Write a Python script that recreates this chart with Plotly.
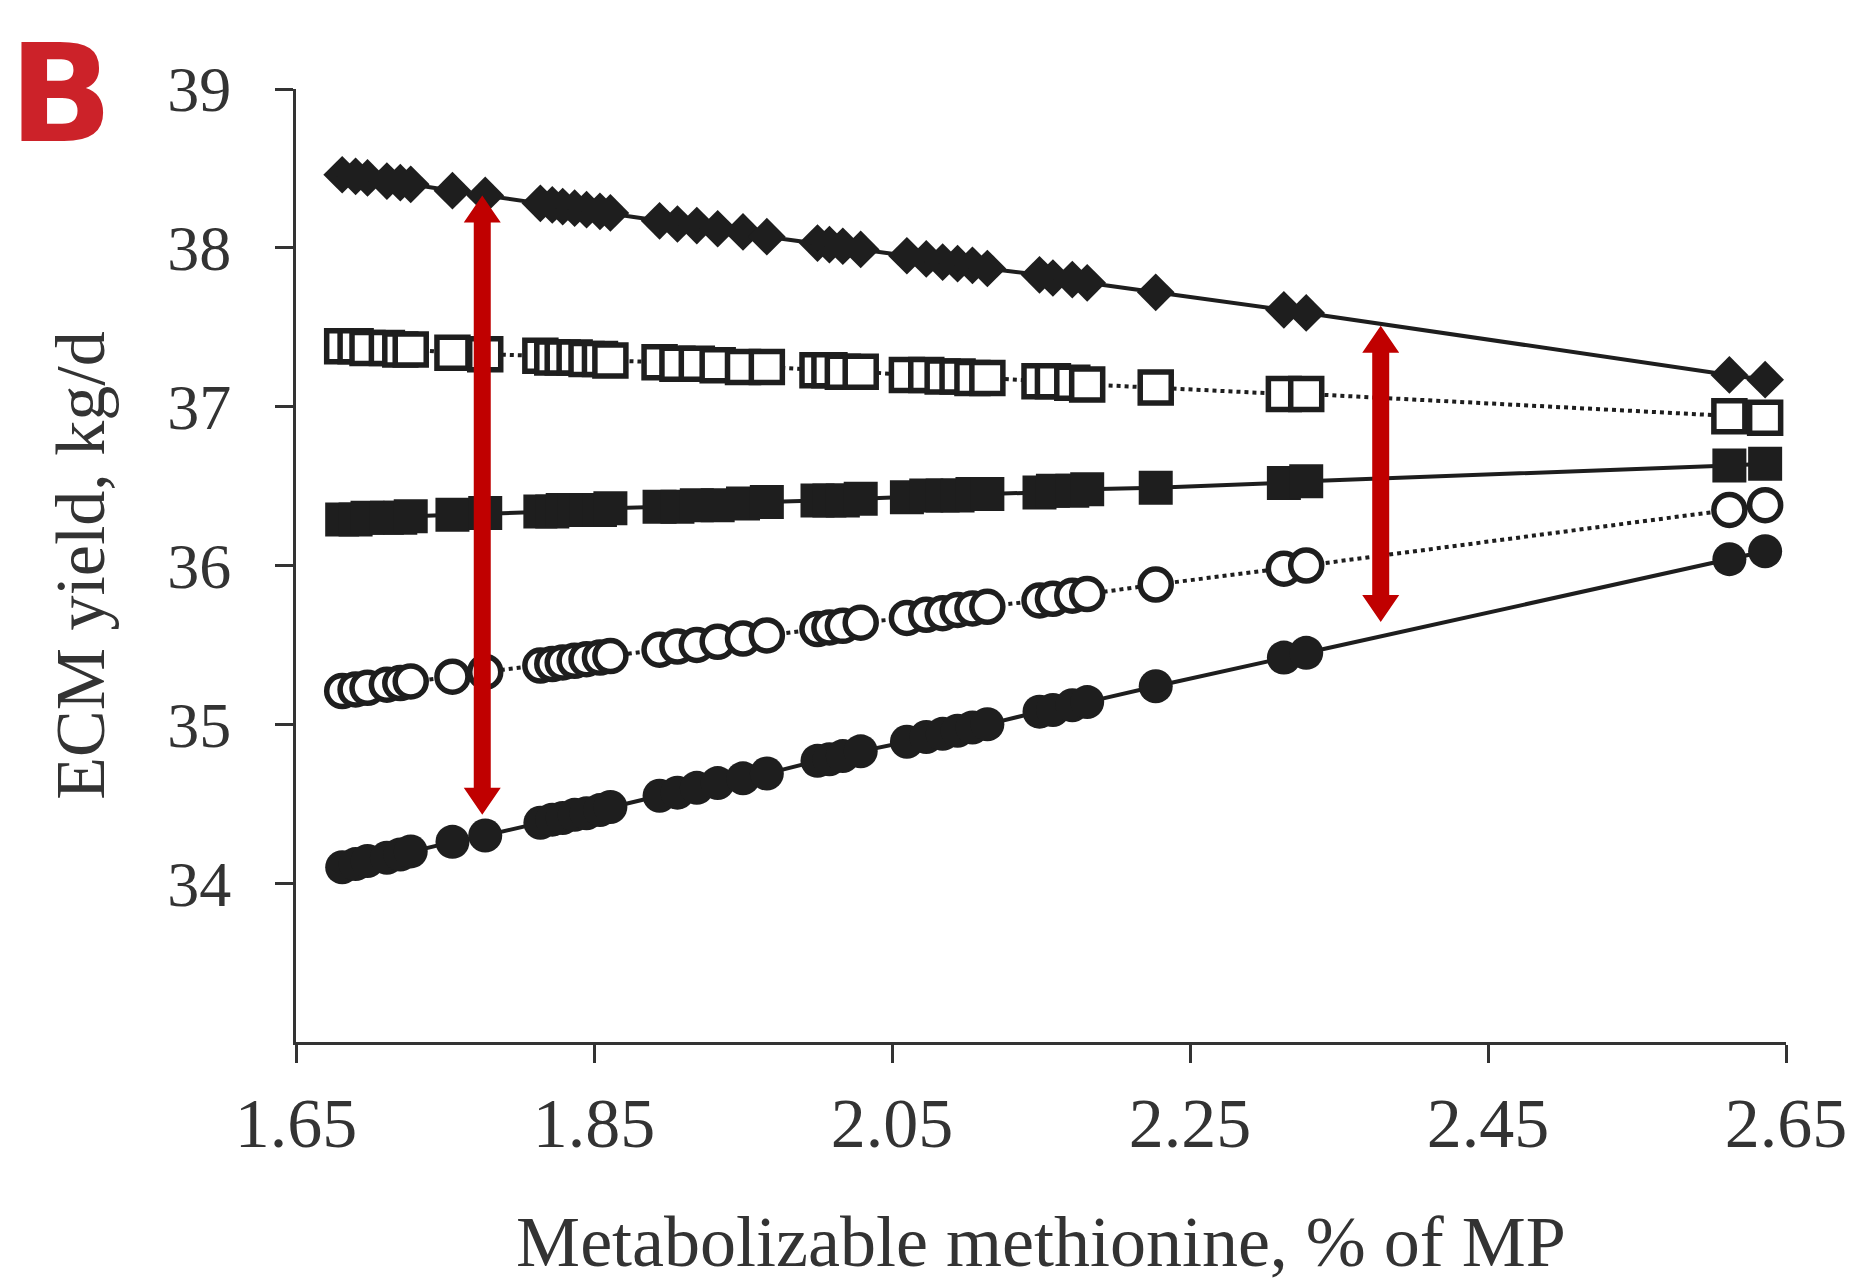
import plotly.graph_objects as go

# ---------------- data ----------------
met_x = [1.681, 1.690, 1.698, 1.711, 1.720, 1.727, 1.755, 1.777, 1.814, 1.822,
         1.829, 1.837, 1.845, 1.854, 1.861, 1.894, 1.906, 1.919, 1.933, 1.950,
         1.966, 2.000, 2.008, 2.017, 2.029, 2.060, 2.073, 2.084, 2.094, 2.104,
         2.114, 2.149, 2.158, 2.171, 2.181, 2.227, 2.313, 2.328, 2.612, 2.636]

ecm_diamond = [38.46, 38.45, 38.44, 38.42, 38.41, 38.40, 38.36, 38.33, 38.28, 38.27,
               38.26, 38.25, 38.24, 38.23, 38.22, 38.17, 38.15, 38.14, 38.12, 38.10,
               38.07, 38.03, 38.02, 38.01, 37.99, 37.95, 37.93, 37.91, 37.90, 37.89,
               37.87, 37.83, 37.81, 37.80, 37.78, 37.72, 37.61, 37.59, 37.20, 37.17]

ecm_open_square = [37.38, 37.38, 37.37, 37.37, 37.36, 37.36, 37.34, 37.33, 37.32, 37.31,
                   37.31, 37.31, 37.30, 37.30, 37.29, 37.28, 37.27, 37.27, 37.26, 37.25,
                   37.25, 37.23, 37.23, 37.22, 37.22, 37.20, 37.20, 37.19, 37.19, 37.18,
                   37.18, 37.16, 37.16, 37.15, 37.14, 37.12, 37.08, 37.08, 36.94, 36.93]

ecm_square = [36.29, 36.29, 36.30, 36.30, 36.30, 36.31, 36.32, 36.33, 36.34, 36.34,
              36.35, 36.35, 36.35, 36.35, 36.36, 36.37, 36.37, 36.38, 36.38, 36.39,
              36.40, 36.41, 36.41, 36.41, 36.42, 36.43, 36.44, 36.44, 36.44, 36.45,
              36.45, 36.46, 36.47, 36.47, 36.48, 36.49, 36.52, 36.53, 36.63, 36.64]

ecm_open_circle = [35.21, 35.22, 35.23, 35.25, 35.26, 35.27, 35.30, 35.33, 35.37, 35.38,
                   35.39, 35.40, 35.41, 35.42, 35.43, 35.47, 35.49, 35.50, 35.52, 35.54,
                   35.56, 35.60, 35.61, 35.62, 35.64, 35.67, 35.69, 35.70, 35.72, 35.73,
                   35.74, 35.78, 35.79, 35.81, 35.82, 35.88, 35.98, 36.00, 36.35, 36.38]

ecm_circle = [34.10, 34.12, 34.14, 34.16, 34.18, 34.20, 34.26, 34.30, 34.38, 34.40,
              34.41, 34.43, 34.44, 34.46, 34.48, 34.55, 34.57, 34.60, 34.63, 34.66,
              34.69, 34.77, 34.78, 34.80, 34.83, 34.89, 34.92, 34.94, 34.96, 34.98,
              35.00, 35.08, 35.09, 35.12, 35.14, 35.24, 35.42, 35.45, 36.04, 36.09]

x_ticks = [1.65, 1.85, 2.05, 2.25, 2.45, 2.65]
x_tick_labels = ["1.65", "1.85", "2.05", "2.25", "2.45", "2.65"]
y_ticks = [34, 35, 36, 37, 38, 39]
y_tick_labels = ["34", "35", "36", "37", "38", "39"]

# double-headed red arrows (annotation marks)
arrow_x = [1.775, 2.378]
arrow_top = [38.33, 37.51]
arrow_bottom = [34.43, 35.645]

# ---------------- figure ----------------
INK = "#1e1e1e"
AXIS = "#333333"
SERIF = "Liberation Serif, Times New Roman, serif"

fig = go.Figure()

def add_series(y, symbol, size, filled, dash, lw):
    if filled:
        marker = dict(symbol=symbol, size=size, color=INK, line=dict(width=0))
    else:
        marker = dict(symbol=symbol, size=size, color="white",
                      line=dict(width=5.5, color=INK))
    fig.add_trace(go.Scatter(
        x=met_x, y=y, mode="lines+markers",
        line=dict(color=INK, width=lw, dash=dash),
        marker=marker, showlegend=False, hoverinfo="x+y"))

add_series(ecm_diamond, "diamond", 29, True, "solid", 4)
add_series(ecm_open_square, "square", 31, False, "dot", 4)
add_series(ecm_square, "square", 34, True, "solid", 4)
add_series(ecm_open_circle, "circle", 31, False, "dot", 4)
add_series(ecm_circle, "circle", 34, True, "solid", 4)

# arrows: shaft/head widths in pixels, head length in data units
head_len = 0.17
half_head = 18.5
half_shaft = 8.5
for ax, yt, yb in zip(arrow_x, arrow_top, arrow_bottom):
    path = (f"M0,{yt} L{half_head},{yt-head_len} L{half_shaft},{yt-head_len} "
            f"L{half_shaft},{yb+head_len} L{half_head},{yb+head_len} L0,{yb} "
            f"L{-half_head},{yb+head_len} L{-half_shaft},{yb+head_len} "
            f"L{-half_shaft},{yt-head_len} L{-half_head},{yt-head_len} Z")
    fig.add_shape(type="path", path=path, xref="x", yref="y",
                  xsizemode="pixel", xanchor=ax,
                  fillcolor="#C00000", line=dict(width=0), layer="above")

fig.add_annotation(text="<b>B</b>", xref="paper", yref="paper",
                   x=-0.158, y=0.995, xanchor="center", yanchor="middle",
                   showarrow=False,
                   font=dict(family="DejaVu Sans, Liberation Sans, sans-serif",
                             size=136, color="#CC2229"))

# the page body adds an 8px offset, so the figure is 16px smaller than the window
fig.update_layout(
    width=1849, height=1274,
    margin=dict(l=288, r=71, t=81, b=240),
    paper_bgcolor="white", plot_bgcolor="white",
    font=dict(family=SERIF, color=AXIS),
    xaxis=dict(range=[1.65, 2.65], tickmode="array", tickvals=x_ticks,
               ticktext=x_tick_labels, showgrid=False, zeroline=False,
               showline=True, linecolor=AXIS, linewidth=3,
               ticks="outside", ticklen=18, tickwidth=2.5, tickcolor=AXIS,
               tickfont=dict(family=SERIF, size=70, color=AXIS),
               automargin=False,
               title=dict(text="Metabolizable methionine, % of MP",
                          font=dict(family=SERIF, size=72, color=AXIS),
                          standoff=58)),
    yaxis=dict(range=[33, 39], tickmode="array", tickvals=y_ticks,
               ticktext=y_tick_labels, showgrid=False, zeroline=False,
               showline=True, linecolor=AXIS, linewidth=3,
               ticks="outside", ticklen=18, tickwidth=2.5, tickcolor=AXIS,
               ticklabelstandoff=31,
               tickfont=dict(family=SERIF, size=64, color=AXIS),
               automargin=False,
               title=dict(text="ECM yield, kg/d",
                          font=dict(family=SERIF, size=70, color=AXIS),
                          standoff=40)),
)

fig.write_html("out.html")
